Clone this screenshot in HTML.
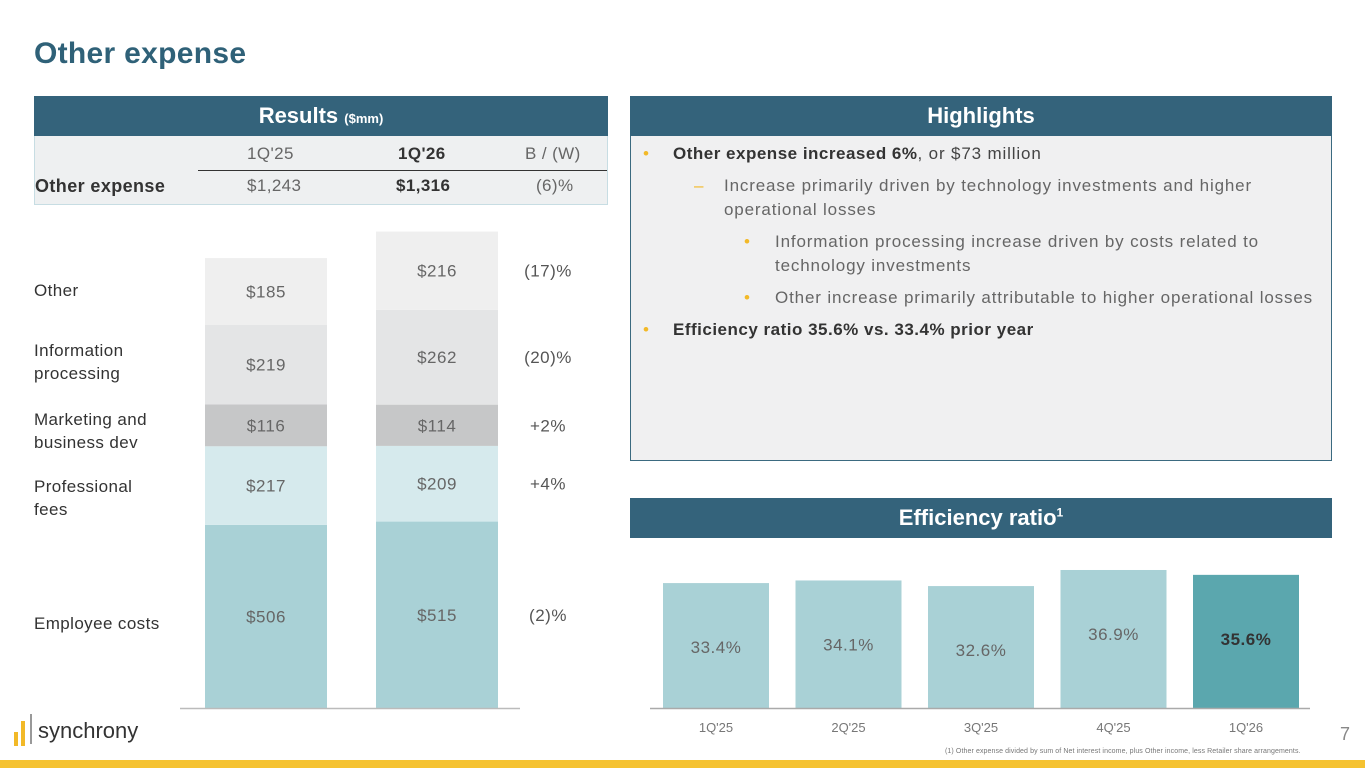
<!DOCTYPE html>
<html><head><meta charset="utf-8"><style>
body{margin:0;width:1365px;height:768px;position:relative;background:#fff;font-family:"Liberation Sans",sans-serif;overflow:hidden;color:#333}
.abs{position:absolute}
.hdr{background:#34637b;color:#fff;font-weight:bold;font-size:22px;text-align:center;line-height:40px;height:40px}
.lab{font-size:17px;color:#333;line-height:23px;letter-spacing:0.4px}
.g{color:#666}
</style></head><body>
<div class="abs" style="left:34px;top:37px;font-size:30px;font-weight:bold;color:#2f6178;letter-spacing:0.3px">Other expense</div>

<div class="abs hdr" style="left:34px;top:96px;width:574px">Results <span style="font-size:13px">($mm)</span></div>
<div class="abs" style="left:34px;top:136px;width:572px;height:68px;background:#eef0f1;border:1px solid #c7dde3;border-top:none;font-size:17px;letter-spacing:0.4px">
 <div class="abs g" style="left:212px;top:8px">1Q'25</div>
 <div class="abs" style="left:363px;top:8px;font-weight:bold;color:#333">1Q'26</div>
 <div class="abs g" style="left:490px;top:8px">B / (W)</div>
 <div class="abs" style="left:163px;top:34px;width:409px;border-top:1.5px solid #333"></div>
 <div class="abs" style="left:0;top:40px;font-weight:bold;color:#333;font-size:18px">Other expense</div>
 <div class="abs g" style="left:212px;top:40px">$1,243</div>
 <div class="abs" style="left:361px;top:40px;font-weight:bold;color:#333">$1,316</div>
 <div class="abs g" style="left:501px;top:40px">(6)%</div>
</div>

<div class="abs hdr" style="left:630px;top:96px;width:702px">Highlights</div>
<div class="abs" style="left:630px;top:136px;width:700px;height:324px;background:#f0f0f1;border:1px solid #3b6a80;border-top:none;font-size:17px;color:#444;line-height:24px;letter-spacing:0.85px">
 <div class="abs" style="left:12px;top:6px;color:#f2b928">•</div>
 <div class="abs" style="left:42px;top:6px"><b style="color:#333;letter-spacing:0.5px">Other expense increased 6%</b>, or $73 million</div>
 <div class="abs" style="left:63px;top:38px;color:#f2b928">–</div>
 <div class="abs g" style="left:93px;top:38px;width:560px">Increase primarily driven by technology investments and higher operational losses</div>
 <div class="abs" style="left:113px;top:94px;color:#f2b928">•</div>
 <div class="abs g" style="left:144px;top:94px;width:520px">Information processing increase driven by costs related to technology investments</div>
 <div class="abs" style="left:113px;top:150px;color:#f2b928">•</div>
 <div class="abs g" style="left:144px;top:150px">Other increase primarily attributable to higher operational losses</div>
 <div class="abs" style="left:12px;top:182px;color:#f2b928">•</div>
 <div class="abs" style="left:42px;top:182px;font-weight:bold;color:#333;letter-spacing:0.5px">Efficiency ratio 35.6% vs. 33.4% prior year</div>
</div>

<div class="abs hdr" style="left:630px;top:498px;width:702px">Efficiency ratio<sup style="font-size:12px;line-height:0">1</sup></div>

<div class="abs lab" style="left:34px;top:279px">Other</div>
<div class="abs lab" style="left:34px;top:339px">Information<br>processing</div>
<div class="abs lab" style="left:34px;top:408px">Marketing and<br>business dev</div>
<div class="abs lab" style="left:34px;top:475px">Professional<br>fees</div>
<div class="abs lab" style="left:34px;top:612px">Employee costs</div>

<svg class="abs" style="left:0;top:0" width="1365" height="768" id="chart"></svg>

<div class="abs" style="left:14px;top:716px;width:130px;height:32px">
 <div class="abs" style="left:0;top:16px;width:4px;height:14px;background:#f2b928"></div>
 <div class="abs" style="left:7px;top:5px;width:4px;height:25px;background:#f2b928"></div>
 <div class="abs" style="left:16px;top:-2px;width:2px;height:30px;background:#999"></div>
 <div class="abs" style="left:24px;top:2px;font-size:22px;color:#333">synchrony</div>
</div>
<div class="abs" style="left:1340px;top:724px;font-size:18px;color:#888">7</div>
<div class="abs" style="left:945px;top:748px;font-size:7px;color:#777;letter-spacing:0.1px">(1) Other expense divided by sum of Net interest income, plus Other income, less Retailer share arrangements.</div>
<div class="abs" style="left:0;top:760px;width:1365px;height:8px;background:#f5c231"></div>

<script>
const segNames=["Employee costs","Professional fees","Marketing and business dev","Information processing","Other"];
const q1_25=[506,217,116,219,185];
const q1_26=[515,209,114,262,216];
const changes=["(2)%","+4%","+2%","(20)%","(17)%"];
const segColors=["#a9d1d6","#d6eaed","#c6c7c8","#e4e5e6","#efefef"];
const effCats=["1Q'25","2Q'25","3Q'25","4Q'25","1Q'26"];
const effVals=[33.4,34.1,32.6,36.9,35.6];

const svg=document.getElementById('chart');
const NS="http://www.w3.org/2000/svg";
function mk(t,a){const e=document.createElementNS(NS,t);for(const k in a)e.setAttribute(k,a[k]);svg.appendChild(e);return e;}
const base=708, k=0.362;
const yS=v=>base-v*k;
const barsX=[205,376], bw=122;
[q1_25,q1_26].forEach((vals,bi)=>{
 let cum=0;
 vals.forEach((v,i)=>{
  const y0=yS(cum+v), h=v*k;
  const r=mk('rect',{x:barsX[bi],y:y0,width:bw,height:h,fill:segColors[i]});
  
  
  const t=mk('text',{x:barsX[bi]+bw/2,y:y0+h/2+6,'text-anchor':'middle','font-size':17,fill:'#666','font-family':'Liberation Sans','letter-spacing':0.5});
  t.textContent='$'+v;
  
  
  cum+=v;
 });
});
let cum=0;
q1_26.forEach((v,i)=>{
 const mid=yS(cum+v/2); cum+=v;
 const t=mk('text',{x:548,y:mid+6,'text-anchor':'middle','font-size':17,fill:'#555','font-family':'Liberation Sans','letter-spacing':0.5});
 t.textContent=changes[i];
 
 
});
const ax1=mk('line',{x1:180,x2:520,y1:base+0.5,y2:base+0.5,stroke:'#bbb','stroke-width':1.5});



const ek=3.74, ex0=663, step=132.5, ebw=106;
effVals.forEach((v,i)=>{
 const x=ex0+i*step, h=v*ek;
 const r=mk('rect',{x:x,y:base-h,width:ebw,height:h,fill:i==effVals.length-1?'#5ba7ae':'#a9d1d6'});
 
 
 const t=mk('text',{x:x+ebw/2,y:base-h+70,'text-anchor':'middle','font-size':17,fill:i==effVals.length-1?'#333':'#666','font-weight':i==effVals.length-1?'bold':'normal','font-family':'Liberation Sans','letter-spacing':0.5});
 t.textContent=v.toFixed(1)+'%';
 
 
 const c=mk('text',{x:x+ebw/2,y:732,'text-anchor':'middle','font-size':13,fill:'#777','font-family':'Liberation Sans'});
 c.textContent=effCats[i];
 
 
});
const ax2=mk('line',{x1:650,x2:1310,y1:base+0.5,y2:base+0.5,stroke:'#aaa','stroke-width':1.5});


</script>
</body></html>
